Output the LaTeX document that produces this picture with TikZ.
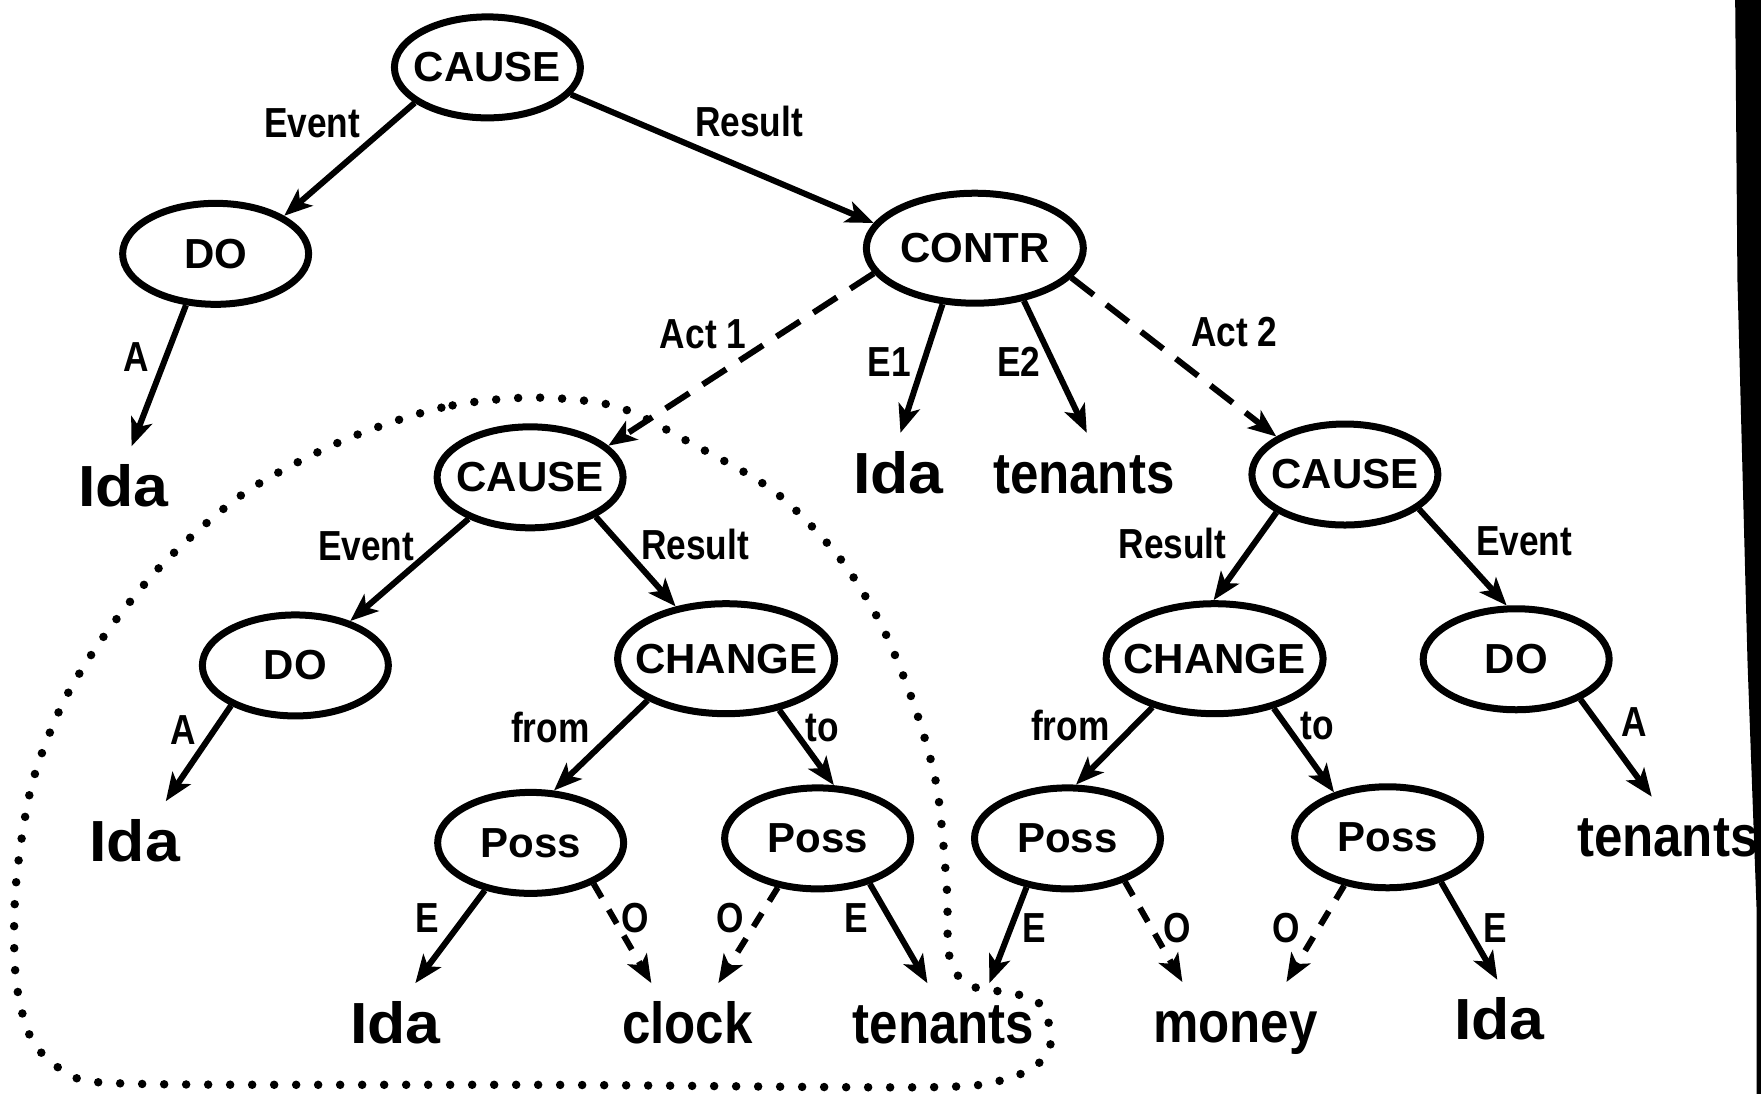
\documentclass[tikz,border=0pt]{standalone}
\usepackage{fontspec}
\setmainfont{Liberation Sans}
\newfontfamily\labfam[FakeStretch=0.84]{Liberation Sans}
\newfontfamily\leaffam[FakeStretch=0.88]{Liberation Sans}
\newfontfamily\idafam[FakeStretch=1.08]{Liberation Sans}
\usetikzlibrary{shapes.geometric,arrows.meta}
\newcommand{\nodefnt}{\bfseries\fontsize{42}{48}\selectfont}
\newcommand{\labfnt}{\labfam\bfseries\fontsize{42}{48}\selectfont}
\newcommand{\leaffnt}{\leaffam\bfseries\fontsize{58}{64}\selectfont}
\newcommand{\idafnt}{\idafam\bfseries\fontsize{58}{64}\selectfont}
\begin{document}
\begin{tikzpicture}[x=1.1231pt,y=-1.1231pt,
  ell/.style={ellipse, draw, line width=7pt, inner xsep=-30pt, inner ysep=0pt, minimum width=186pt, minimum height=101pt, font=\nodefnt},
  wideell/.style={ell, minimum width=217pt, minimum height=110pt},
  leaf/.style={anchor=base, inner xsep=4pt, inner ysep=16pt, text height=44pt, text depth=14pt, font=\leaffnt},
  idaleaf/.style={leaf, font=\idafnt},
  lab/.style={font=\labfnt, inner sep=0pt},
  arr/.style={line width=6pt, -{Stealth[length=28pt,width=22pt,inset=7pt]}},
  darr/.style={arr, dash pattern=on 28pt off 16pt},
  oarr/.style={arr, dash pattern=on 16pt off 14pt},
  dotline/.style={line width=8.5pt, line cap=round, dash pattern=on 0pt off 22pt}]
\useasboundingbox (0,0) rectangle (1568,974);
\fill[white] (0,0) rectangle (1568,974);
% black scanner bar on the right
\fill[black] (1545,0) -- (1568,0) -- (1568,974) -- (1564,974) -- (1564,808) -- (1556,590) -- (1547,249) -- cycle;

% ellipse nodes
\node[ell] (c1) at (434,60) {CAUSE};
\node[ell] (do1) at (192,226) {DO};
\node[wideell] (contr) at (868,221) {CONTR};
\node[ell] (c2) at (472,425) {CAUSE};
\node[ell] (c3) at (1197.5,422.5) {CAUSE};
\node[ell] (do2) at (263,592.5) {DO};
\node[wideell] (ch1) at (646.5,586.5) {CHANGE};
\node[wideell] (ch2) at (1081.5,586.5) {CHANGE};
\node[ell] (do3) at (1350,587) {DO};
\node[ell] (p1) at (472.5,750.5) {Poss};
\node[ell] (p2) at (728,746.5) {Poss};
\node[ell] (p3) at (950.5,746.5) {Poss};
\node[ell] (p4) at (1235.5,745.5) {Poss};

% leaves
\node[idaleaf] (ida1) at (110,451) {Ida};
\node[idaleaf] (ida2) at (800,439) {Ida};
\node[leaf] (ten1) at (965,439) {tenants};
\node[idaleaf] (idaM) at (120,767) {Ida};
\node[leaf] (tenR) at (1485,763) {tenants};
\node[idaleaf] (idaB) at (352,929) {Ida};
\node[leaf] (clock) at (612,929) {clock};
\node[leaf] (tenB) at (840,929) {tenants};
\node[leaf] (money) at (1100,928) {money};
\node[idaleaf] (idaR) at (1335,926) {Ida};

% edge labels
\node[lab] (lEv1) at (278,110) {Event};
\node[lab] (lRe1) at (667,108) {Result};
\node[lab] (lA1) at (121,318) {A};
\node[lab] (lAct1) at (626,298) {Act 1};
\node[lab] (lE1) at (792,322) {E1};
\node[lab] (lE2) at (907,322) {E2};
\node[lab] (lAct2) at (1099,296) {Act 2};
\node[lab] (lEv2) at (326,486) {Event};
\node[lab] (lRe2) at (619,485) {Result};
\node[lab] (lRe3) at (1044,484) {Result};
\node[lab] (lEv3) at (1357,482) {Event};
\node[lab] (lA2) at (163,650) {A};
\node[lab] (lfr1) at (490,648) {from};
\node[lab] (lto1) at (732,648) {to};
\node[lab] (lfr2) at (953,646) {from};
\node[lab] (lto2) at (1173,646) {to};
\node[lab] (lA3) at (1455,643) {A};
\node[lab] (lEa) at (380,817) {E};
\node[lab] (lOa) at (566,817) {O};
\node[lab] (lOb) at (650,817) {O};
\node[lab] (lEb) at (762,817) {E};
\node[lab] (lEc) at (921,826) {E};
\node[lab] (lOc) at (1048,826) {O};
\node[lab] (lOd) at (1145,826) {O};
\node[lab] (lEd) at (1331,826) {E};

% connectors
\draw[arr] (c1.206) -- (do1.29);
\draw[arr] (c1.342) -- (contr.166);
\draw[arr] (do1.240) -- ([xshift=8pt]ida1.north);
\draw[darr] (contr.194) -- (c2.22);
\draw[arr] (contr.240) -- ([xshift=2pt]ida2.north);
\draw[arr] (contr.313) -- ([xshift=3pt]ten1.north);
\draw[darr] (contr.343) -- (c3.151);
\draw[arr] (c2.214) -- (do2.39);
\draw[arr] (c2.329) -- (ch1.134);
\draw[arr] (c3.209) -- (ch2.91);
\draw[arr] (c3.335) -- (do3.100);
\draw[arr] (do2.212) -- ([xshift=31pt]idaM.north);
\draw[arr] (ch1.208) -- (p1.66);
\draw[arr] (ch1.316) -- (p2.73);
\draw[arr] (ch2.218) -- (p3.81);
\draw[arr] (ch2.320) -- (p4.140);
\draw[arr] (do3.328) -- ([xshift=-16pt]tenR.north);
\draw[arr] (p1.226) -- ([xshift=20pt]idaB.north);
\draw[oarr] (p1.327) -- ([xshift=-36pt]clock.north);
\draw[oarr] (p2.231) -- ([xshift=31pt]clock.north);
\draw[arr] (p2.319) -- ([xshift=-16pt]tenB.north);
\draw[arr] (p3.230) -- ([xshift=46pt]tenB.north);
\draw[oarr] (p3.323) -- ([xshift=-53pt]money.north);
\draw[oarr] (p4.228) -- ([xshift=51pt]money.north);
\draw[arr] (p4.320) -- ([xshift=-2pt]idaR.north);

% dotted enclosure
\draw[dotline] plot[smooth cycle, tension=0.5] coordinates {
 (473,354) (393,363) (306,392) (219,438) (147,500) (95,563) (56,626) (28,700)
 (14,790) (14,870) (28,925) (60,955) (120,965) (500,966) (830,968) (898,960)
 (929,943) (936,920) (923,891) (891,883) (860,876) (845,850) (843,790) (834,700)
 (814,628) (785,557) (747,496) (690,438) (616,395) (549,362)};
\end{tikzpicture}
\end{document}
